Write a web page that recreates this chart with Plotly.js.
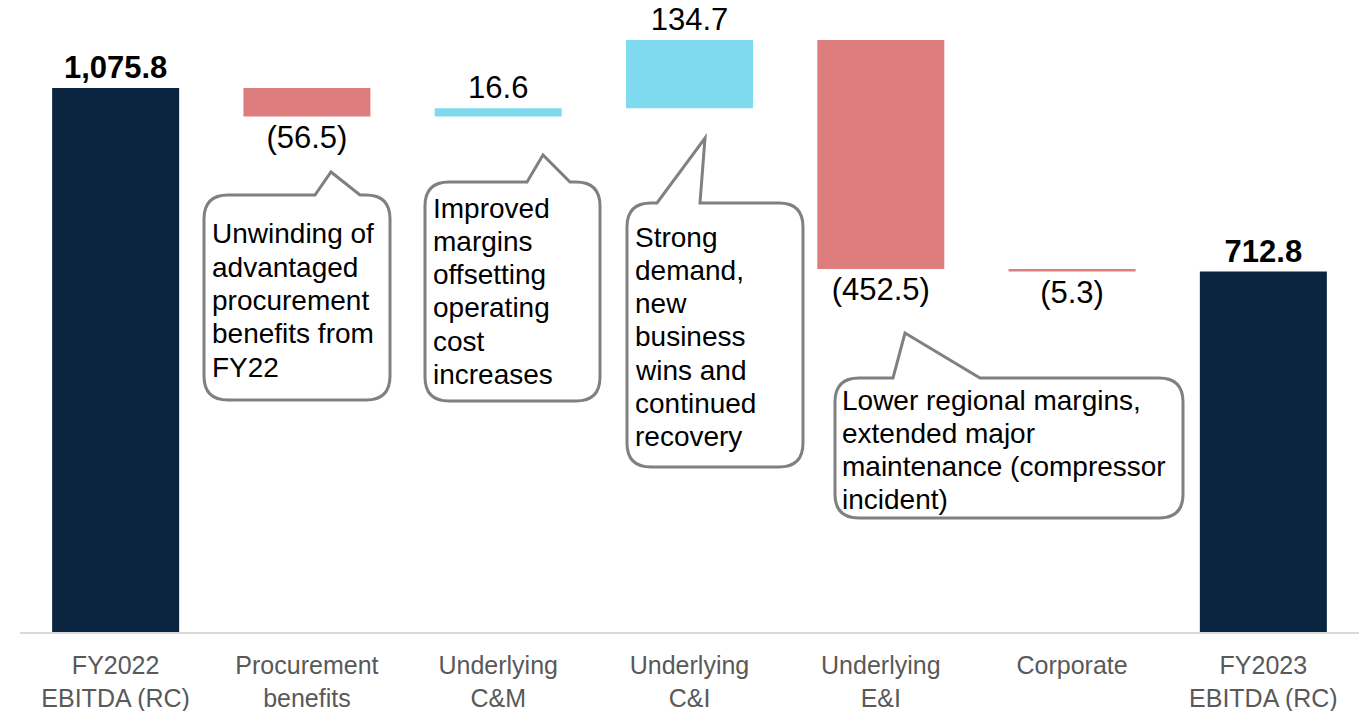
<!DOCTYPE html>
<html><head><meta charset="utf-8">
<script src="https://cdn.plot.ly/plotly-3.0.1.min.js"></script>
<style>html,body{margin:0;padding:0;background:#fff;}#chart{width:1365px;height:711px;}</style>
</head><body><div id="chart"></div>
<script>
// ---- data ----
const categories = ["FY2022<br>EBITDA (RC)", "Procurement<br>benefits", "Underlying<br>C&amp;M", "Underlying<br>C&amp;I", "Underlying<br>E&amp;I", "Corporate", "FY2023<br>EBITDA (RC)"];
const values = [1075.8, -56.5, 16.6, 134.7, -452.5, -5.3, 712.8];
const measures = ["absolute", "relative", "relative", "relative", "relative", "relative", "total"];
const valueLabels = ["<b>1,075.8</b>", "(56.5)", "16.6", "134.7", "(452.5)", "(5.3)", "<b>712.8</b>"];
const calloutProcurement = ["Unwinding of", "advantaged", "procurement", "benefits from", "FY22"];
const calloutCM = ["Improved", "margins", "offsetting", "operating", "cost", "increases"];
const calloutCI = ["Strong", "demand,", "new", "business", "wins and", "continued", "recovery"];
const calloutEI = ["Lower regional margins,", "extended major", "maintenance (compressor", "incident)"];

// ---- layout geometry (pixels) ----
const W = 1365, H = 711, ML = 20, MR = 6, MT = 0, MB = 79;
const PW = W - ML - MR, PH = H - MT - MB;
const px = x => (x - ML) / PW;
const py = y => (H - MB - y) / PH;

function bubble(b) {
  const r = 24;
  const P = (x, y) => px(x).toFixed(5) + "," + py(y).toFixed(5);
  let d = "M" + P(b.x0 + r, b.y0);
  d += " L" + P(b.t1, b.y0) + " L" + P(b.tx, b.ty) + " L" + P(b.t2, b.y0);
  d += " L" + P(b.x1 - r, b.y0) + " Q" + P(b.x1, b.y0) + " " + P(b.x1, b.y0 + r);
  d += " L" + P(b.x1, b.y1 - r) + " Q" + P(b.x1, b.y1) + " " + P(b.x1 - r, b.y1);
  d += " L" + P(b.x0 + r, b.y1) + " Q" + P(b.x0, b.y1) + " " + P(b.x0, b.y1 - r);
  d += " L" + P(b.x0, b.y0 + r) + " Q" + P(b.x0, b.y0) + " " + P(b.x0 + r, b.y0) + " Z";
  return {type: "path", xref: "paper", yref: "paper", path: d,
          line: {color: "#808080", width: 3}, fillcolor: "#ffffff", layer: "above"};
}
const bubbles = [
  {x0: 204, x1: 390, y0: 195, y1: 400, t1: 315, tx: 331, ty: 172, t2: 360, lines: calloutProcurement, tl: 210, c0: 234},
  {x0: 425, x1: 600, y0: 182, y1: 401, t1: 527, tx: 543, ty: 155, t2: 570, lines: calloutCM, tl: 431, c0: 208},
  {x0: 627, x1: 803, y0: 203, y1: 467, t1: 657, tx: 705, ty: 138, t2: 700, lines: calloutCI, tl: 633, c0: 237},
  {x0: 835, x1: 1183, y0: 378, y1: 518, t1: 893, tx: 905, ty: 333, t2: 980, lines: calloutEI, tl: 840, c0: 400}
];
const shapes = bubbles.map(bubble);
const annotations = [];
bubbles.forEach(b => {
  b.lines.forEach((t, i) => {
    annotations.push({xref: "paper", yref: "paper", x: px(b.tl), y: py(b.c0 + i * 33.3),
      xanchor: "left", yanchor: "middle", text: t, showarrow: false,
      font: {family: "Liberation Sans, Arial, sans-serif", size: 28, color: "#000000"}});
  });
});

const trace = {
  type: "waterfall",
  x: categories,
  y: values,
  measure: measures,
  text: valueLabels,
  textposition: "outside",
  textfont: {family: "Liberation Sans, Arial, sans-serif", size: 31, color: "#000000"},
  cliponaxis: false,
  connector: {visible: false},
  increasing: {marker: {color: "#7FDAEF"}},
  decreasing: {marker: {color: "#DE7D7D"}},
  totals: {marker: {color: "#0B2440"}},
  hoverinfo: "none"
};

const layout = {
  width: W, height: H,
  margin: {l: ML, r: MR, t: MT, b: MB},
  paper_bgcolor: "#ffffff", plot_bgcolor: "#ffffff",
  showlegend: false,
  waterfallgap: 0.336,
  xaxis: {type: "category", showline: true, linecolor: "#d9d9d9", linewidth: 2,
          ticks: "", showgrid: false, zeroline: false, ticklabelstandoff: 10,
          tickfont: {family: "Liberation Sans, Arial, sans-serif", size: 25, color: "#595959"}},
  yaxis: {visible: false, range: [0, PH / (544 / 1075.8)], showgrid: false, zeroline: false},
  shapes: shapes,
  annotations: annotations
};
Plotly.newPlot("chart", [trace], layout, {displayModeBar: false, staticPlot: true});
</script>
</body></html>
